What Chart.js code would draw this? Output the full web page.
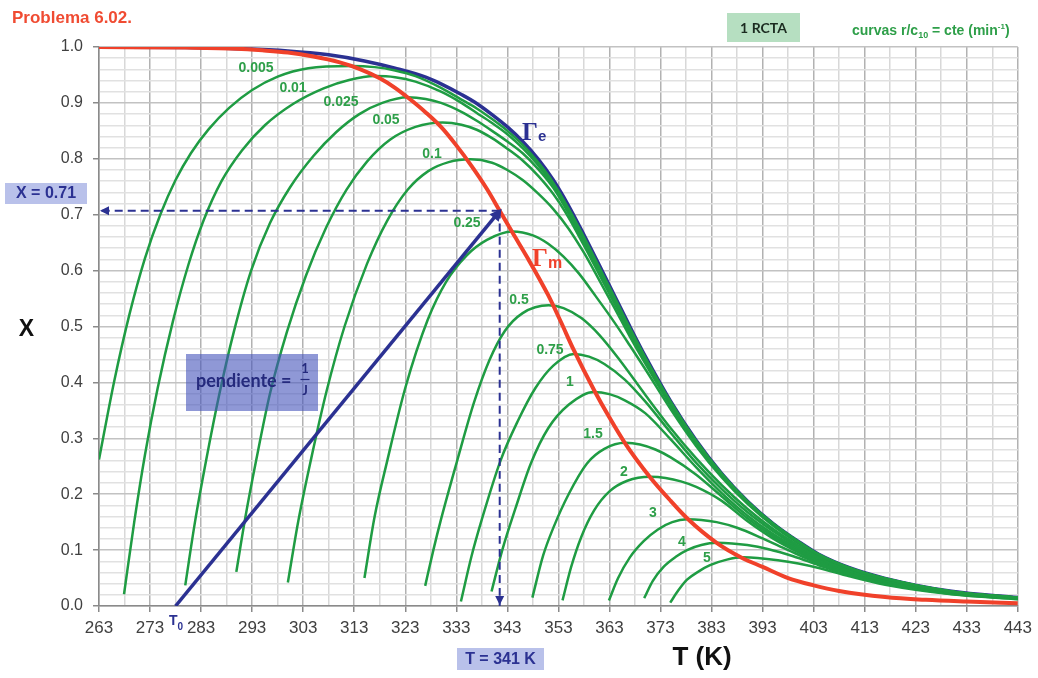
<!DOCTYPE html>
<html>
<head>
<meta charset="utf-8">
<title>Problema 6.02</title>
<script src="https://cdn.jsdelivr.net/npm/chart.js"></script>
<style>
  html, body { margin: 0; padding: 0; background: #ffffff; }
  canvas { display: block; }
</style>
</head>
<body>
<canvas id="chart" width="1038" height="678"></canvas>
<script>
// axis ticks
const tempTicks = [263, 273, 283, 293, 303, 313, 323, 333, 343, 353, 363, 373, 383, 393, 403, 413, 423, 433, 443];
const convTicks = [0, 0.1, 0.2, 0.3, 0.4, 0.5, 0.6, 0.7, 0.8, 0.9, 1.0];

// r/c10 of each constant-rate curve (min-1)
const rateLabels = ['0.005', '0.01', '0.025', '0.05', '0.1', '0.25', '0.5', '0.75', '1', '1.5', '2', '3', '4', '5'];

// equilibrium curve (Γe) and max-rate curve (Γm), [T, X]
const gammaE = [[263, 1.0], [280, 0.999], [290, 0.997], [300, 0.993], [308, 0.986], [315, 0.975], [321, 0.962],
  [327, 0.946], [330, 0.934], [334, 0.915], [337, 0.899], [340, 0.879], [343, 0.857], [346, 0.831], [349, 0.8],
  [352, 0.762], [355, 0.716], [358, 0.664], [361, 0.61], [364, 0.555], [367, 0.5], [370, 0.447], [375, 0.366],
  [380, 0.296], [385, 0.237], [390, 0.188], [395, 0.148], [400, 0.1155], [404, 0.0925], [410, 0.0685],
  [417, 0.0495], [430, 0.0262], [443, 0.0152]];

const gammaM = [[263, 1.0], [280, 0.999], [290, 0.997], [295, 0.994], [300, 0.99], [305, 0.983], [310, 0.973],
  [314, 0.961], [318, 0.944], [321, 0.927], [324, 0.906], [327, 0.883], [330, 0.857], [333, 0.824], [336, 0.787],
  [339, 0.746], [341.5, 0.707], [344, 0.668], [347, 0.622], [351, 0.556], [353.5, 0.508], [356, 0.458],
  [360, 0.386], [363, 0.337], [366, 0.292], [371, 0.23], [375, 0.188], [378.2, 0.157], [384, 0.113], [389, 0.086],
  [393, 0.07], [398, 0.05], [403, 0.037], [408, 0.027], [417, 0.016], [425, 0.011], [433, 0.008], [443, 0.005]];

// constant-rate curves, [T, X]
const curve0005 = [[263, 0.262], [266, 0.403], [269, 0.523], [272, 0.622], [275, 0.7], [278, 0.762], [281, 0.81],
  [284.5, 0.853], [288.5, 0.891], [293, 0.923], [298, 0.947], [304, 0.962], [312.4, 0.966], [317, 0.964],
  [321, 0.958], [325, 0.948], [330, 0.927], [334, 0.906], [337, 0.89], [340, 0.871], [343, 0.85], [346, 0.825],
  [349, 0.794], [352, 0.757], [355, 0.711], [358, 0.66], [361, 0.606], [364, 0.552], [367, 0.497], [370, 0.445],
  [375, 0.365], [380, 0.295], [385, 0.2365], [390, 0.1875], [395, 0.1477], [400, 0.1152], [404, 0.0922],
  [410, 0.0683], [417, 0.0493], [430, 0.0261], [443, 0.0151]];

const curve001 = [[267.9, 0.021], [269.9, 0.15], [272, 0.27], [274.5, 0.39], [277.5, 0.51], [280.5, 0.61],
  [283.5, 0.69], [287, 0.76], [291, 0.815], [295.5, 0.86], [301, 0.898], [307, 0.926], [312, 0.941], [317, 0.948],
  [321, 0.946], [325, 0.938], [330, 0.92], [334, 0.9], [337, 0.882], [340, 0.864], [343, 0.844], [346, 0.819],
  [349, 0.789], [352, 0.752], [355, 0.707], [358, 0.656], [361, 0.603], [364, 0.549], [367, 0.495], [370, 0.443],
  [375, 0.364], [380, 0.2945], [385, 0.236], [390, 0.187], [395, 0.1474], [400, 0.115], [404, 0.092],
  [410, 0.0681], [417, 0.0492], [430, 0.026], [443, 0.015]];

const curve0025 = [[279.9, 0.037], [281.8, 0.15], [284, 0.261], [286.6, 0.38], [289.4, 0.49], [292.8, 0.6],
  [296.5, 0.685], [300.5, 0.75], [305, 0.805], [309.5, 0.848], [314, 0.88], [318.5, 0.9], [323.5, 0.91],
  [327, 0.907], [330, 0.9], [334, 0.884], [337, 0.868], [340, 0.85], [343, 0.831], [346, 0.81], [349, 0.782],
  [352, 0.748], [355, 0.702], [358, 0.651], [361, 0.598], [364, 0.545], [367, 0.491], [370, 0.441], [375, 0.363],
  [380, 0.294], [385, 0.2355], [390, 0.1865], [395, 0.147], [400, 0.1147], [404, 0.0918], [410, 0.0679],
  [417, 0.049], [430, 0.0259], [443, 0.0149]];

const curve005 = [[289.9, 0.061], [291.7, 0.16], [293.8, 0.261], [296.5, 0.38], [299.8, 0.49], [303.5, 0.59],
  [307.5, 0.677], [311.5, 0.745], [315.5, 0.795], [320, 0.834], [325, 0.857], [330.3, 0.865],
  [334, 0.861], [337, 0.852], [340, 0.837], [343, 0.818], [346, 0.797], [349, 0.77], [352, 0.737], [355, 0.695],
  [358, 0.645], [361, 0.593], [364, 0.541], [367, 0.488], [370, 0.438], [375, 0.361], [380, 0.2925], [385, 0.2345],
  [390, 0.186], [395, 0.1465], [400, 0.1143], [404, 0.0915], [410, 0.0676], [417, 0.0488], [430, 0.0257],
  [443, 0.0148]];

const curve01 = [[300, 0.042], [302, 0.15], [304.6, 0.265], [307.6, 0.385], [311.1, 0.5], [315.5, 0.612],
  [319.5, 0.69], [323.5, 0.745], [327.5, 0.778], [331.5, 0.794], [335.8, 0.799], [340, 0.793], [343, 0.78],
  [346, 0.762], [349, 0.738], [352, 0.71], [355, 0.675], [358, 0.632], [361, 0.583], [364, 0.533], [367, 0.482],
  [370, 0.434], [375, 0.358], [380, 0.29], [385, 0.233], [390, 0.185], [395, 0.146], [400, 0.114], [404, 0.091],
  [410, 0.0673], [417, 0.0486], [430, 0.0256], [443, 0.0147]];

const curve025 = [[315, 0.05], [317, 0.16], [319.5, 0.261], [323, 0.39], [327.4, 0.512], [331, 0.58], [335, 0.627],
  [339, 0.655], [344, 0.67], [348, 0.663], [351, 0.648], [354, 0.625], [357, 0.595], [360, 0.558], [364, 0.507],
  [367, 0.466], [370, 0.424], [375, 0.352], [380, 0.286], [385, 0.23], [390, 0.183], [395, 0.144], [400, 0.112],
  [404, 0.0895], [410, 0.0662], [417, 0.0478], [430, 0.0251], [443, 0.0144]];

const curve05 = [[326.9, 0.036], [328.5, 0.1], [330, 0.155], [333.2, 0.261], [336.5, 0.365], [339.5, 0.44],
  [342.5, 0.492], [346, 0.524], [351.1, 0.538], [354, 0.533], [357.5, 0.515], [361, 0.485], [365, 0.44], [370, 0.378],
  [375, 0.318], [380, 0.264], [385, 0.216], [390, 0.174], [395, 0.138], [400, 0.108], [404, 0.087], [410, 0.064],
  [417, 0.046], [430, 0.0245], [443, 0.0141]];

const curve075 = [[333.9, 0.008], [336, 0.09], [338, 0.155], [341.7, 0.261], [345, 0.33], [348.5, 0.39],
  [352, 0.43], [356, 0.451], [359, 0.446], [362, 0.433], [366, 0.405], [370, 0.366], [375, 0.31], [380, 0.256],
  [385, 0.209], [390, 0.168], [395, 0.134], [400, 0.105], [404, 0.085], [410, 0.063], [417, 0.0455], [430, 0.0242],
  [443, 0.014]];

const curve1 = [[339.9, 0.026], [342, 0.1], [344.6, 0.175], [347.6, 0.255], [351, 0.318], [355, 0.36],
  [359.9, 0.383], [363, 0.379], [366, 0.368], [370, 0.345], [375, 0.298], [380, 0.248], [385, 0.202], [390, 0.162],
  [395, 0.129], [400, 0.102], [404, 0.083], [410, 0.062], [417, 0.045], [430, 0.024], [443, 0.0138]];

const curve15 = [[347.9, 0.015], [350, 0.09], [352.1, 0.142], [355, 0.2], [358.6, 0.255], [362, 0.281],
  [366.1, 0.292], [369, 0.289], [372, 0.28], [375, 0.266], [380, 0.235], [385, 0.196], [390, 0.157], [395, 0.125],
  [400, 0.099], [404, 0.081], [410, 0.0605], [417, 0.044], [430, 0.0235], [443, 0.0136]];

const curve2 = [[353.8, 0.01], [355.5, 0.07], [357.5, 0.124], [360, 0.171], [363, 0.205], [366.5, 0.224],
  [371, 0.231], [374, 0.229], [377, 0.223], [380, 0.213], [385, 0.188], [390, 0.152], [395, 0.121], [400, 0.096],
  [404, 0.079], [410, 0.059], [417, 0.0435], [430, 0.023], [443, 0.0134]];

const curve3 = [[362.9, 0.01], [364.7, 0.05], [367, 0.087], [369.7, 0.116], [372.5, 0.137], [375.3, 0.15],
  [378.2, 0.155], [381, 0.154], [384, 0.15], [388, 0.14], [393, 0.121], [398, 0.1], [404, 0.076], [410, 0.057],
  [417, 0.0415], [430, 0.0222], [443, 0.013]];

const curve4 = [[369.8, 0.014], [371.5, 0.045], [373.6, 0.07], [376, 0.088], [378.2, 0.1], [381, 0.109],
  [384, 0.113], [387, 0.112], [390, 0.109], [394, 0.102], [399, 0.089], [404, 0.073], [410, 0.055], [417, 0.04],
  [430, 0.0215], [443, 0.0126]];

const curve5 = [[374.9, 0.006], [376.5, 0.028], [378.2, 0.047], [380.5, 0.062], [382.7, 0.073], [386, 0.083],
  [389.2, 0.087], [392, 0.086], [396, 0.082], [400, 0.076], [404, 0.068], [410, 0.053], [417, 0.038], [430, 0.021],
  [443, 0.0122]];

const rateCurves = [curve0005, curve001, curve0025, curve005, curve01, curve025, curve05, curve075,
  curve1, curve15, curve2, curve3, curve4, curve5];

// adiabatic operating line from T0 to the point on Γm
const adiabatic = [[278, 0], [341.5, 0.707]];
const opT = 341.5;
const opX = 0.707;

const navy = '#2b3192';
const red = '#f0412a';
const green = '#1f9c43';
const labelGreen = '#2e9f49';
const SANS = '"Liberation Sans", Arial, sans-serif';

const xy = pts => pts.map(p => ({ x: p[0], y: p[1] }));
const isMajorX = v => tempTicks.includes(v);
const isMajorY = v => convTicks.some(t => Math.abs(t - v) < 1e-6);

// first dataset is drawn on top
const datasets = [
  { data: xy(adiabatic), borderColor: navy, borderWidth: 3.5 },
  { data: [{ x: opT, y: opX }, { x: tempTicks[0], y: opX }], borderColor: navy, borderWidth: 2, borderDash: [8, 5] },
  { data: [{ x: opT, y: opX }, { x: opT, y: 0 }], borderColor: navy, borderWidth: 2, borderDash: [8, 5] },
  { data: xy(gammaM), borderColor: red, borderWidth: 4 },
  ...rateCurves.map((c, i) => ({ label: rateLabels[i], data: xy(c), borderColor: green, borderWidth: 2.5 })),
  { data: xy(gammaE), borderColor: navy, borderWidth: 3.5 }
];

// labels and annotation boxes drawn on top of the chart
const rateLabelPos = [[256, 68], [293, 88], [341, 102], [386, 120], [432, 154], [467, 223], [519, 300],
  [550, 350], [570, 382], [593, 434], [624, 472], [653, 513], [682, 542], [707, 558]];

function txt(ctx, s, x, y, font, color, align, base) {
  ctx.font = font;
  ctx.fillStyle = color;
  ctx.textAlign = align || 'center';
  ctx.textBaseline = base || 'middle';
  ctx.fillText(s, x, y);
  return ctx.measureText(s).width;
}

const overlay = {
  id: 'overlay',
  afterDraw(chart) {
    const { ctx, scales: { x, y } } = chart;
    ctx.save();

    const arrow = (tx, ty, ang, len, half) => {
      ctx.save();
      ctx.translate(tx, ty);
      ctx.rotate(ang);
      ctx.beginPath();
      ctx.moveTo(0, 0);
      ctx.lineTo(-len, -half);
      ctx.lineTo(-len, half);
      ctx.closePath();
      ctx.fillStyle = navy;
      ctx.fill();
      ctx.restore();
    };
    const ax = x.getPixelForValue(opT), ay = y.getPixelForValue(opX);
    const sx = x.getPixelForValue(adiabatic[0][0]), sy = y.getPixelForValue(adiabatic[0][1]);
    arrow(x.getPixelForValue(tempTicks[0]) + 1, ay, Math.PI, 9, 4.5);
    arrow(ax, y.getPixelForValue(0) - 1, Math.PI / 2, 9, 4.5);
    arrow(ax + 2, ay - 2, Math.atan2(ay - sy, ax - sx), 12, 6);

    // rate labels
    rateLabels.forEach((s, i) => {
      txt(ctx, s, rateLabelPos[i][0], rateLabelPos[i][1], 'bold 14px ' + SANS, labelGreen);
    });

    // Γe and Γm
    let w = txt(ctx, 'Γ', 522, 140, 'bold 25px "Liberation Serif", serif', navy, 'left', 'alphabetic');
    txt(ctx, 'e', 522 + w, 141, 'bold 15px ' + SANS, navy, 'left', 'alphabetic');
    w = txt(ctx, 'Γ', 532, 266, 'bold 25px "Liberation Serif", serif', red, 'left', 'alphabetic');
    txt(ctx, 'm', 532 + w, 268, 'bold 16px ' + SANS, red, 'left', 'alphabetic');

    // T0
    w = txt(ctx, 'T', 169, 625, 'bold 14px ' + SANS, navy, 'left', 'alphabetic');
    txt(ctx, '0', 169 + w, 630, 'bold 10px ' + SANS, navy, 'left', 'alphabetic');

    // pendiente box
    ctx.fillStyle = 'rgba(68, 83, 187, 0.6)';
    ctx.fillRect(186, 354, 132, 57);
    txt(ctx, 'pendiente =', 196, 381, 'bold 18px Lato, ' + SANS, '#252a7d', 'left');
    txt(ctx, '1', 305, 369, 'bold 13px Lato, ' + SANS, '#252a7d');
    ctx.strokeStyle = '#252a7d';
    ctx.lineWidth = 1.2;
    ctx.beginPath();
    ctx.moveTo(300.5, 379.5);
    ctx.lineTo(309.5, 379.5);
    ctx.stroke();
    txt(ctx, 'J', 305, 391, 'bold 13px Lato, ' + SANS, '#252a7d');

    // X = 0.71 and T = 341 K boxes
    ctx.fillStyle = '#b9c1ea';
    ctx.fillRect(5, 183, 82, 21);
    txt(ctx, 'X = 0.71', 46, 194, 'bold 16px ' + SANS, navy);
    ctx.fillStyle = '#b9c1ea';
    ctx.fillRect(457, 648, 87, 22);
    txt(ctx, 'T = 341 K', 500.5, 659.5, 'bold 16px ' + SANS, navy);

    // axis titles
    txt(ctx, 'X', 26.5, 330, 'bold 23px ' + SANS, '#111111');
    txt(ctx, 'T (K)', 702, 658, 'bold 26px ' + SANS, '#111111');

    // header texts
    txt(ctx, 'Problema 6.02.', 12, 18, 'bold 17px ' + SANS, '#f04b32', 'left');
    ctx.fillStyle = '#b6dfc1';
    ctx.fillRect(727, 13, 73, 29);
    txt(ctx, '1 RCTA', 763.5, 28, 'bold 14px Lato, ' + SANS, '#1b2b20');

    let cx = 852;
    const gFont = 'bold 14px ' + SANS;
    cx += txt(ctx, 'curvas r/c', cx, 35, gFont, labelGreen, 'left', 'alphabetic');
    cx += txt(ctx, '10', cx, 38, 'bold 9px ' + SANS, labelGreen, 'left', 'alphabetic');
    cx += txt(ctx, ' = cte (min', cx, 35, gFont, labelGreen, 'left', 'alphabetic');
    cx += txt(ctx, '-1', cx, 29, 'bold 8px ' + SANS, labelGreen, 'left', 'alphabetic');
    txt(ctx, ')', cx, 35, gFont, labelGreen, 'left', 'alphabetic');

    ctx.restore();
  }
};

new Chart(document.getElementById('chart'), {
  type: 'scatter',
  data: { datasets },
  options: {
    responsive: false,
    animation: false,
    events: [],
    layout: { padding: { top: 47, right: 18, left: 0, bottom: 0 } },
    datasets: {
      scatter: { showLine: true, pointRadius: 0, fill: false, cubicInterpolationMode: 'monotone' }
    },
    plugins: { legend: { display: false }, tooltip: { enabled: false } },
    scales: {
      x: {
        type: 'linear',
        min: tempTicks[0],
        max: tempTicks[tempTicks.length - 1],
        afterBuildTicks: s => {
          const t = [];
          for (let v = tempTicks[0]; v <= tempTicks[tempTicks.length - 1]; v += 5) t.push({ value: v });
          s.ticks = t;
        },
        afterFit: s => { s.height = 72; },
        ticks: {
          autoSkip: false, maxRotation: 0, padding: 6, color: '#404040',
          font: { family: SANS, size: 17 },
          callback: v => isMajorX(v) ? String(v) : ''
        },
        grid: {
          color: c => isMajorX(c.tick.value) ? '#b2b2b2' : '#d8d8d8',
          lineWidth: 1.5,
          tickLength: 6,
          tickColor: c => isMajorX(c.tick.value) ? '#8a8a8a' : 'rgba(0,0,0,0)'
        },
        border: { color: '#8a8a8a', width: 1.5 }
      },
      y: {
        type: 'linear',
        min: 0,
        max: 1,
        afterBuildTicks: s => {
          const t = [];
          for (let i = 0; i <= 50; i++) t.push({ value: i / 50 });
          s.ticks = t;
        },
        afterFit: s => { s.width = 99; },
        ticks: {
          autoSkip: false, padding: 10, color: '#404040',
          font: { family: SANS, size: 16 },
          callback: v => isMajorY(v) ? v.toFixed(1) : ''
        },
        grid: {
          color: c => isMajorY(c.tick.value) ? '#c2c2c2' : '#e1e1e1',
          lineWidth: 1.5,
          tickLength: 6,
          tickColor: c => isMajorY(c.tick.value) ? '#8a8a8a' : 'rgba(0,0,0,0)'
        },
        border: { color: '#8a8a8a', width: 1.5 }
      }
    }
  },
  plugins: [overlay]
});
</script>
</body>
</html>
